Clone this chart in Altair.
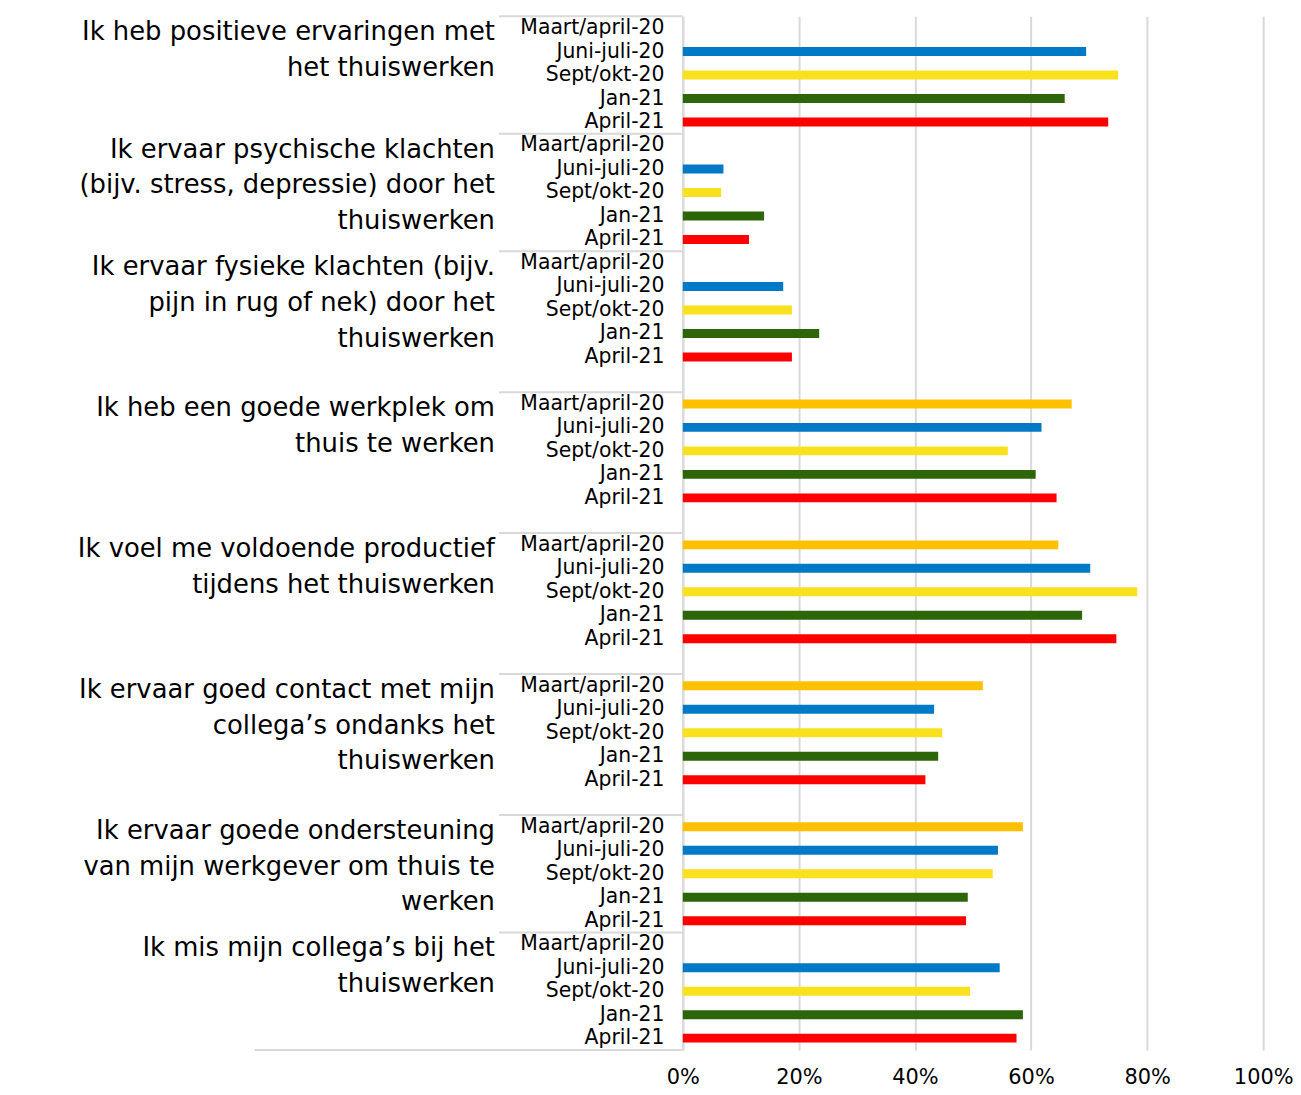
import altair as alt
import pandas as pd

periods = ["Maart/april-20", "Juni-juli-20", "Sept/okt-20", "Jan-21", "April-21"]
period_colors = ["#FFC000", "#0079C6", "#F9E11E", "#2C650A", "#FF0000"]

statements = [
    "Ik heb positieve ervaringen met\nhet thuiswerken",
    "Ik ervaar psychische klachten\n(bijv. stress, depressie) door het\nthuiswerken",
    "Ik ervaar fysieke klachten (bijv.\npijn in rug of nek) door het\nthuiswerken",
    "Ik heb een goede werkplek om\nthuis te werken",
    "Ik voel me voldoende productief\ntijdens het thuiswerken",
    "Ik ervaar goed contact met mijn\ncollega’s ondanks het\nthuiswerken",
    "Ik ervaar goede ondersteuning\nvan mijn werkgever om thuis te\nwerken",
    "Ik mis mijn collega’s bij het\nthuiswerken",
]

# percentages per period, one value per statement (None = no bar)
maart_april_20 = [None, None, None, 67.0, 64.7, 51.7, 58.6, None]
juni_juli_20 = [69.5, 7.0, 17.3, 61.8, 70.2, 43.3, 54.3, 54.6]
sept_okt_20 = [75.0, 6.6, 18.8, 56.0, 78.3, 44.7, 53.4, 49.5]
jan_21 = [65.8, 14.0, 23.5, 60.8, 68.8, 44.0, 49.1, 58.6]
april_21 = [73.3, 11.4, 18.8, 64.4, 74.7, 41.8, 48.8, 57.5]

# empty category row after the periods in some statement groups
trailing_blank = [0, 0, 1, 1, 1, 1, 0, 0]

x_ticks = [0, 20, 40, 60, 80, 100]

series = [maart_april_20, juni_juli_20, sept_okt_20, jan_21, april_21]

rows = []          # ordered row ids
bar_records = []
group_records = []
sep_records = []
n = 0
for g, stmt in enumerate(statements):
    first = None
    for p, per in enumerate(periods):
        rid = f"{n:02d}|{per}"
        rows.append(rid)
        if first is None:
            first = rid
        v = series[p][g]
        if v is not None:
            bar_records.append({"row": rid, "period": per, "value": v})
        n += 1
    for _ in range(trailing_blank[g]):
        rows.append(f"{n:02d}|")
        n += 1
    group_records.append({"row": first, "label": stmt})
    sep_records.append({"row": first})

bars_df = pd.DataFrame(bar_records)
groups_df = pd.DataFrame(group_records)
seps_df = pd.DataFrame(sep_records)
last_df = pd.DataFrame([{"row": rows[-1]}])

FONT = "DejaVu Sans"
GRID = "#d9d9d9"

y_enc = alt.Y(
    "row:N",
    sort=rows,
    scale=alt.Scale(domain=rows, paddingInner=0, paddingOuter=0),
    axis=alt.Axis(
        labelExpr="split(datum.label, '|')[1]",
        title=None,
        ticks=False,
        labelPadding=19,
        labelFontSize=20.5,
        labelFont=FONT,
        labelColor="#000000",
        labelLimit=400,
        domainColor=GRID,
        domainWidth=2,
        grid=False,
    ),
)

x_enc = alt.X(
    "value:Q",
    scale=alt.Scale(domain=[0, 100]),
    axis=alt.Axis(
        values=x_ticks,
        labelExpr="datum.value + '%'",
        labelFlush=False,
        labelOverlap=False,
        title=None,
        grid=True,
        gridColor=GRID,
        gridWidth=2,
        domain=False,
        ticks=False,
        labelPadding=17,
        labelFontSize=21,
        labelFont=FONT,
        labelColor="#000000",
    ),
)

bars = alt.Chart(bars_df).mark_bar(size=9).encode(
    x=x_enc,
    y=y_enc,
    color=alt.Color(
        "period:N",
        scale=alt.Scale(domain=periods, range=period_colors),
        legend=None,
    ),
)

group_labels = alt.Chart(groups_df).mark_text(
    align="right",
    baseline="alphabetic",
    font=FONT,
    fontSize=26,
    lineHeight=36,
    lineBreak="\n",
    dy=24,
    color="#000000",
).encode(
    x=alt.value(-189),
    y=alt.Y("row:N", sort=rows, bandPosition=0),
    text="label:N",
)

separators = alt.Chart(seps_df).mark_rule(color=GRID, strokeWidth=2).encode(
    x=alt.value(-185),
    x2=alt.value(0),
    y=alt.Y("row:N", sort=rows, bandPosition=0),
)

bottom_line = alt.Chart(last_df).mark_rule(color=GRID, strokeWidth=2).encode(
    x=alt.value(-431),
    x2=alt.value(0),
    y=alt.Y("row:N", sort=rows, bandPosition=1),
)

chart = (
    alt.layer(bars, separators, bottom_line, group_labels)
    .properties(
        width=584,
        height=1040,
        autosize=alt.AutoSizeParams(type="none"),
        padding={"left": 679, "top": 5, "right": 30, "bottom": 40},
        background="#ffffff",
    )
    .configure_view(stroke=None)
)

chart.save("out.html", embed_options={"renderer": "svg", "actions": False})
